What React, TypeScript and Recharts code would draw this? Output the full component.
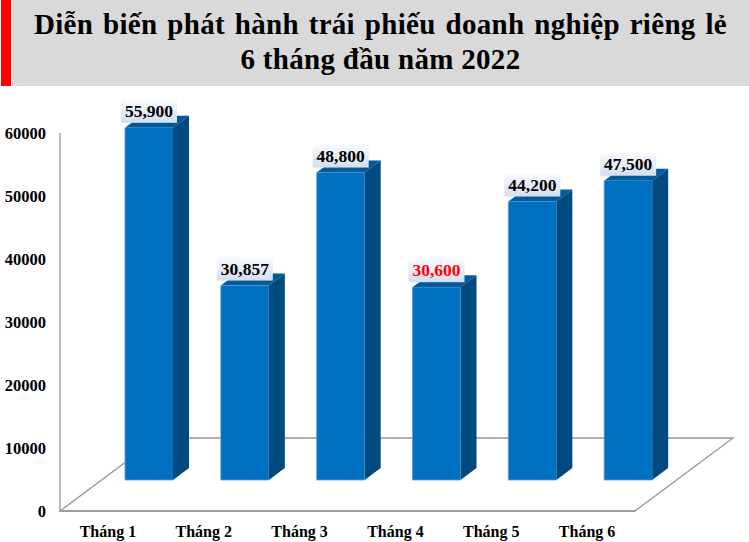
import { BarChart, Bar, XAxis, YAxis, LabelList, Customized, usePlotArea } from "recharts";

const months = ["Tháng 1", "Tháng 2", "Tháng 3", "Tháng 4", "Tháng 5", "Tháng 6"];
const issued = [55900, 30857, 48800, 30600, 44200, 47500];
const yTicks = [0, 10000, 20000, 30000, 40000, 50000, 60000];
const highlighted = ["Tháng 4"];

const data = months.map((name, i) => ({ name, issued: issued[i] }));

const serif = '"Liberation Serif", "Times New Roman", serif';

// fake 3d: the floor runs back by this much, bars stand part way along it
const floorX = 98;
const floorY = 73;
const barShiftX = 41;
const barShiftY = 31;
const sideX = 16;
const sideY = 12;

function Floor() {
  const plot = usePlotArea();
  if (!plot) return null;
  const left = plot.x;
  const right = plot.x + plot.width;
  const bottom = plot.y + plot.height;
  const pts = [
    [left, bottom],
    [left + floorX, bottom - floorY],
    [right + floorX, bottom - floorY],
    [right, bottom],
  ];
  return (
    <polygon
      points={pts.map((p) => p.join(",")).join(" ")}
      fill="none"
      stroke="#969696"
      strokeWidth={1.3}
    />
  );
}

function Bar3D(props: any) {
  const { x, y, width, height } = props;
  const l = x + barShiftX;
  const r = l + width;
  const t = y - barShiftY;
  const b = t + height;
  return (
    <g>
      <polygon
        points={`${l},${t} ${l + sideX},${t - sideY} ${r + sideX},${t - sideY} ${r},${t}`}
        fill="#005A9C"
      />
      <polygon
        points={`${r},${t} ${r + sideX},${t - sideY} ${r + sideX},${b - sideY} ${r},${b}`}
        fill="#004A80"
      />
      <rect x={l} y={t} width={width} height={height} fill="#0070C0" />
      <path d={`M${l},${t} V${b} H${r}`} fill="none" stroke="#5B9BD0" strokeWidth={0.8} />
    </g>
  );
}

function ValueLabel(props: any) {
  const { x, y, width, value, index } = props;
  const cx = x + barShiftX + width / 2;
  const t = y - barShiftY;
  const color = highlighted.includes(months[index]) ? "#FF0000" : "#000000";
  return (
    <g>
      <rect x={cx - 28} y={t - 28} width={56} height={23} fill="url(#labelBg)" />
      <text
        x={cx}
        y={t - 11}
        textAnchor="middle"
        fontFamily={serif}
        fontWeight="bold"
        fontSize={17.5}
        fill={color}
      >
        {Number(value).toLocaleString("en-US")}
      </text>
    </g>
  );
}

export default function App() {
  return (
    <div style={{ position: "absolute", left: 0, top: 0, width: 749, height: 542, background: "#fff" }}>
      <div style={{ position: "absolute", left: 1, top: 0, width: 10, height: 86, background: "#FF0000" }} />
      <div
        style={{
          position: "absolute",
          left: 12,
          top: 0,
          width: 737,
          height: 86,
          background: "#D9D9D9",
          fontFamily: serif,
          fontWeight: "bold",
          fontSize: 29,
          lineHeight: "35px",
          letterSpacing: 0.3,
          textAlign: "center",
          color: "#000",
          paddingTop: 7,
          boxSizing: "border-box",
        }}
      >
        <span style={{ wordSpacing: 2.3 }}>Diễn biến phát hành trái phiếu doanh nghiệp riêng lẻ</span>
        <br />6 tháng đầu năm 2022
      </div>
      <div style={{ position: "absolute", left: 0, top: 0 }}>
        <BarChart
          width={749}
          height={542}
          data={data}
          margin={{ top: 133, right: 114, bottom: 0, left: 0 }}
          barCategoryGap={0}
        >
          <defs>
            <linearGradient id="labelBg" x1="0" y1="0" x2="0" y2="1">
              <stop offset="0%" stopColor="#F8FAFD" />
              <stop offset="100%" stopColor="#D3DEF0" />
            </linearGradient>
          </defs>
          <Customized component={<Floor />} />
          <XAxis
            dataKey="name"
            height={31}
            axisLine={{ stroke: "#969696", strokeWidth: 1.3 }}
            tickLine={false}
            tickMargin={9}
            interval={0}
            tick={{ fill: "#000", fontFamily: serif, fontWeight: "bold", fontSize: 16 }}
          />
          <YAxis
            width={60}
            domain={[0, 60000]}
            ticks={yTicks}
            axisLine={{ stroke: "#969696", strokeWidth: 1.3 }}
            tickLine={false}
            tickMargin={8}
            tick={{ fill: "#000", fontFamily: serif, fontWeight: "bold", fontSize: 16.5 }}
          />
          <Bar dataKey="issued" barSize={48} shape={<Bar3D />} isAnimationActive={false}>
            <LabelList dataKey="issued" content={<ValueLabel />} />
          </Bar>
        </BarChart>
      </div>
    </div>
  );
}
